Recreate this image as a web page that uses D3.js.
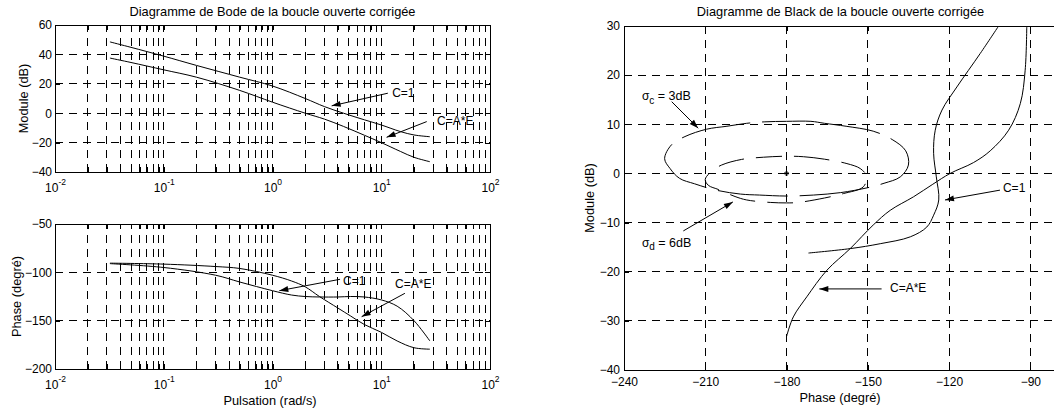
<!DOCTYPE html>
<html><head><meta charset="utf-8">
<script src="https://cdn.jsdelivr.net/npm/d3@7"></script>
<style>
body{margin:0;background:#fff;}
svg text{font-family:"Liberation Sans",Arial,Helvetica,sans-serif;fill:#000;}
</style></head><body>
<svg id="chart" width="1054" height="415"></svg>
<script>
// ---------------- DATA ----------------
// Bode magnitude
const freqMag = [0.032, 0.05, 0.1, 0.2, 0.5, 1, 2, 3, 4.5, 7, 10, 15, 20, 28];
const magC1   = [48.5, 44.8, 38.8, 32.5, 24.5, 18.5, 10, 4.5, 0, -4.5, -8, -12.5, -14.8, -16];
const magCAE  = [37.5, 34.5, 29.5, 24.5, 15.5, 7.5, 0, -4, -9, -15, -20, -26, -30, -33];
// Bode phase
const freqPh   = [0.032, 0.1, 0.3, 0.5, 1, 1.5, 2, 2.7, 4, 5.2, 7, 10, 14, 20, 28];
const phaseC1  = [-91, -95, -103, -110, -119, -123.5, -125, -125.5, -125.5, -125, -125.5, -128.5, -135, -150, -171];
const phaseCAE = [-90.5, -91.5, -94, -96, -103, -109, -115, -125, -137, -145, -154, -162, -171, -178, -179.5];
// Black (Nichols) curves : phase (deg), module (dB)
const blackC1Phase  = [-101.7, -108.5, -117.1, -122.6, -125.1, -125.7, -124.7, -123.8, -125.7, -128.2, -134.3, -145.4, -156.5, -171.9];
const blackC1Mod    = [30, 24.4, 17.6, 12.9, 8.8, 4.1, -0.7, -5.4, -8.5, -10.9, -12.9, -14.3, -15.3, -16.2];
const blackCAEPhase = [-91.3, -91.9, -93.7, -98, -104.8, -111, -119.6, -126, -133.1, -141.7, -148, -156.5, -165.1, -172.5, -177.5, -180];
const blackCAEMod   = [30, 21, 14.2, 8.8, 4.6, 2.2, 0, -2.2, -4.75, -7.5, -10.5, -15.3, -19.7, -25.1, -29.2, -33.2];
// contours sigma_c = 3 dB and sigma_d = 6 dB
const contourCPhase = [-180, -171, -166, -158, -148, -141, -136, -135, -138, -144, -150, -160, -170, -180, -190, -197, -206, -214, -219.5, -223, -225, -222.5, -217.5, -209.5, -202, -194.7, -188];
const contourCMod   = [10.6, 10.6, 10.2, 9.6, 8.6, 6.9, 4.6, 1.7, -0.7, -2.0, -2.9, -3.9, -4.4, -4.6, -4.4, -4.2, -3.4, -2.1, -1.0, 1.0, 3.0, 5.8, 7.5, 9.0, 9.6, 10.2, 10.5];
const contourDPhase = [-180, -173.7, -166, -157.7, -152.8, -150.5, -151.6, -159, -166, -175.6, -180, -186, -194.7, -199, -205, -208.9, -210, -207.5, -204, -196.6, -188.5];
const contourDMod   = [3.5, 3.4, 2.9, 2.0, 1.0, -0.5, -2.7, -4.1, -5.0, -5.9, -6.0, -5.9, -5.4, -4.7, -3.3, -2.4, -1.2, 0.5, 1.7, 2.85, 3.3];
// ticks
const bodeXMajor  = [0.01, 0.1, 1, 10, 100];
const magTicks    = [-40, -20, 0, 20, 40, 60];
const phaseTicks  = [-200, -150, -100, -50];
const blackXTicks = [-240, -210, -180, -150, -120, -90];
const blackYTicks = [-40, -30, -20, -10, 0, 10, 20, 30];

// ---------------- SCALES ----------------
const svg = d3.select("#chart");
svg.append("rect").attr("width", 1054).attr("height", 415).attr("fill", "#fff");

const xB   = d3.scaleLog().domain([0.01, 100]).range([55, 490]);
const yMag = d3.scaleLinear().domain([-40, 60]).range([172, 25]);
const yPh  = d3.scaleLinear().domain([-200, -50]).range([369, 224]);
const xN   = d3.scaleLinear().domain([-240, -80]).range([624, 1057.4]);
const yN   = d3.scaleLinear().domain([-40, 30]).range([370, 26]);

const DASH = "8,6";
const TICKFS = 12;

svg.append("defs").append("marker")
  .attr("id", "arr").attr("markerUnits", "userSpaceOnUse")
  .attr("markerWidth", 12).attr("markerHeight", 8)
  .attr("refX", 0).attr("refY", 0).attr("viewBox", "-10 -4 12 8")
  .attr("orient", "auto")
  .append("path").attr("d", "M0,0 L-9,-3 L-9,3 Z").attr("fill", "#000");

function grid(g, xs, ys, xs_, ys_) {
  const [x0, x1] = xs_.range();
  const [y0, y1] = ys_.range(); // y0 bottom, y1 top
  const dx = xs_.domain(), dy = ys_.domain();
  g.append("g").selectAll("line").data(xs.filter(d => d > dx[0] && d < dx[1])).join("line")
    .attr("x1", d => xs_(d)).attr("x2", d => xs_(d)).attr("y1", y0).attr("y2", y1)
    .attr("stroke", "#000").attr("stroke-width", 1).attr("stroke-dasharray", DASH)
    .attr("shape-rendering", "crispEdges");
  g.append("g").selectAll("line").data(ys.filter(d => d > dy[0] && d < dy[1])).join("line")
    .attr("x1", x0).attr("x2", x1).attr("y1", d => ys_(d)).attr("y2", d => ys_(d))
    .attr("stroke", "#000").attr("stroke-width", 1).attr("stroke-dasharray", DASH)
    .attr("shape-rendering", "crispEdges");
}

function styleAxis(sel) {
  sel.select(".domain").remove();
  sel.attr("font-family", null).attr("font-size", TICKFS);
  sel.selectAll("line").attr("stroke", "#000").attr("shape-rendering", "crispEdges");
  sel.selectAll("text").attr("fill", "#000");
}

function expFormat(sel) {
  sel.selectAll(".tick text").each(function(d) {
    const e = Math.round(Math.log10(d));
    const t = d3.select(this).text(null);
    t.append("tspan").text("10");
    t.append("tspan").text(String(e)).attr("font-size", 8.5).attr("dy", -7.5);
  });
}

function bodePanel(yScale, yTicks) {
  const g = svg.append("g");
  const [yb, yt] = yScale.range();
  const minor = xB.ticks();
  grid(g, minor, yTicks, xB, yScale);
  g.append("g").attr("transform", `translate(0,${yb})`)
    .call(d3.axisBottom(xB).tickValues(minor).tickSize(-5).tickFormat(""))
    .call(styleAxis);
  g.append("g").attr("transform", `translate(0,${yb})`)
    .call(d3.axisBottom(xB).tickValues(bodeXMajor).tickSize(-5).tickPadding(11.5))
    .call(styleAxis).call(expFormat);
  g.append("g").attr("transform", `translate(0,${yt})`)
    .call(d3.axisTop(xB).tickValues(minor).tickSize(-5).tickFormat(""))
    .call(styleAxis);
  g.append("g").attr("transform", `translate(55,0)`)
    .call(d3.axisLeft(yScale).tickValues(yTicks).tickSize(-5).tickPadding(3))
    .call(styleAxis);
  g.append("g").attr("transform", `translate(490,0)`)
    .call(d3.axisRight(yScale).tickValues(yTicks).tickSize(-5).tickFormat(""))
    .call(styleAxis);
  g.append("rect").attr("x", 55).attr("y", yt).attr("width", 435).attr("height", yb - yt)
    .attr("fill", "none").attr("stroke", "#000").attr("stroke-width", 1).attr("shape-rendering", "crispEdges");
  return g;
}

function curve(g, xs, ys, xScale, yScale) {
  g.append("path").datum(xs.map((x, i) => [x, ys[i]]))
    .attr("d", d3.line().x(d => xScale(d[0])).y(d => yScale(d[1])).curve(d3.curveCatmullRom.alpha(0.5)))
    .attr("fill", "none").attr("stroke", "#000").attr("stroke-width", 1);
}

function arrow(g, x1, y1, x2, y2) {
  g.append("line").attr("x1", x1).attr("y1", y1).attr("x2", x2).attr("y2", y2)
    .attr("stroke", "#000").attr("stroke-width", 1).attr("marker-end", "url(#arr)");
}

function label(g, x, y, txt, fs) {
  g.append("text").attr("x", x).attr("y", y).attr("font-size", fs || 12).text(txt);
}

// ---------------- TOP : Module ----------------
const gTop = bodePanel(yMag, magTicks);
curve(gTop, freqMag, magC1, xB, yMag);
curve(gTop, freqMag, magCAE, xB, yMag);
label(gTop, xB(12.6), yMag(11.1), "C=1");
arrow(gTop, xB(11.5), yMag(13.6), xB(3.5), yMag(5.0));
label(gTop, xB(32.6), yMag(-8), "C=A*E");
arrow(gTop, xB(26.2), yMag(-5.7), xB(11.2), yMag(-16.4));

svg.append("text").attr("x", 272.5).attr("y", 16).attr("text-anchor", "middle")
  .attr("font-size", 12.8).text("Diagramme de Bode de la boucle ouverte corrigée");
svg.append("text").attr("transform", "translate(24,98.5) rotate(-90)").attr("text-anchor", "middle")
  .attr("dy", "0.35em").attr("font-size", 12.8).text("Module (dB)");

// ---------------- BOTTOM : Phase ----------------
const gBot = bodePanel(yPh, phaseTicks);
curve(gBot, freqPh, phaseC1, xB, yPh);
curve(gBot, freqPh, phaseCAE, xB, yPh);
label(gBot, xB(4.45), yPh(-113.1), "C=1");
arrow(gBot, xB(4.18), yPh(-107.2), xB(1.155), yPh(-119));
label(gBot, xB(13.4), yPh(-116.2), "C=A*E");
arrow(gBot, xB(16.5), yPh(-121.7), xB(6.6), yPh(-145.9));

svg.append("text").attr("transform", "translate(17,296.5) rotate(-90)").attr("text-anchor", "middle")
  .attr("dy", "0.35em").attr("font-size", 12.8).text("Phase (degré)");
svg.append("text").attr("x", 270).attr("y", 405).attr("text-anchor", "middle")
  .attr("font-size", 12.8).text("Pulsation (rad/s)");

// ---------------- RIGHT : Black ----------------
const gN = svg.append("g");
grid(gN, blackXTicks, blackYTicks, xN, yN);
gN.append("g").attr("transform", `translate(0,370)`)
  .call(d3.axisBottom(xN).tickValues(blackXTicks).tickSize(-5).tickPadding(7.5))
  .call(styleAxis);
gN.append("g").attr("transform", `translate(0,26)`)
  .call(d3.axisTop(xN).tickValues(blackXTicks).tickSize(-5).tickFormat(""))
  .call(styleAxis);
gN.append("g").attr("transform", `translate(624,0)`)
  .call(d3.axisLeft(yN).tickValues(blackYTicks).tickSize(-5).tickPadding(4))
  .call(styleAxis);
gN.append("rect").attr("x", 624).attr("y", 26).attr("width", 1057.4 - 624).attr("height", 344)
  .attr("fill", "none").attr("stroke", "#000").attr("stroke-width", 1).attr("shape-rendering", "crispEdges");

curve(gN, blackC1Phase, blackC1Mod, xN, yN);
curve(gN, blackCAEPhase, blackCAEMod, xN, yN);

function contour(g, ps, ms, dash) {
  g.append("path").datum(ps.map((p, i) => [p, ms[i]]))
    .attr("d", d3.line().x(d => xN(d[0])).y(d => yN(d[1])).curve(d3.curveCatmullRomClosed.alpha(0.5)))
    .attr("fill", "none").attr("stroke", "#000").attr("stroke-width", 1).attr("stroke-dasharray", dash);
}
contour(gN, contourCPhase, contourCMod, "70,12");
contour(gN, contourDPhase, contourDMod, "26,12");
gN.append("path").attr("d", d3.symbol(d3.symbolCross, 14)())
  .attr("transform", `translate(${xN(-180)},${yN(0)})`).attr("fill", "#000");

function sigmaLabel(g, x, y, sub, rest) {
  const t = g.append("text").attr("x", x).attr("y", y).attr("font-size", 12.5);
  t.append("tspan").text("σ").attr("font-size", 12);
  t.append("tspan").text(sub).attr("font-size", 10).attr("dy", 3.5);
  t.append("tspan").text(rest).attr("dy", -3.5);
}
sigmaLabel(gN, xN(-233.4), yN(14.9), "c", " = 3dB");
arrow(gN, xN(-222.4), yN(14.6), xN(-212.6), yN(9.2));
sigmaLabel(gN, xN(-233.4), yN(-14.9), "d", " = 6dB");
arrow(gN, xN(-218.1), yN(-11.7), xN(-199.8), yN(-5.8));
label(gN, xN(-100.1), yN(-3.7), "C=1");
arrow(gN, xN(-101.2), yN(-3.4), xN(-121.5), yN(-5.4));
label(gN, xN(-141.8), yN(-24.1), "C=A*E");
arrow(gN, xN(-144.9), yN(-23.5), xN(-167.9), yN(-23.5));

svg.append("text").attr("x", 840.5).attr("y", 16).attr("text-anchor", "middle")
  .attr("font-size", 12.8).text("Diagramme de Black de la boucle ouverte corrigée");
svg.append("text").attr("transform", "translate(590,198) rotate(-90)").attr("text-anchor", "middle")
  .attr("dy", "0.35em").attr("font-size", 12.8).text("Module (dB)");
svg.append("text").attr("x", 840).attr("y", 402).attr("text-anchor", "middle")
  .attr("font-size", 12.8).text("Phase (degré)");
</script>
</body></html>
